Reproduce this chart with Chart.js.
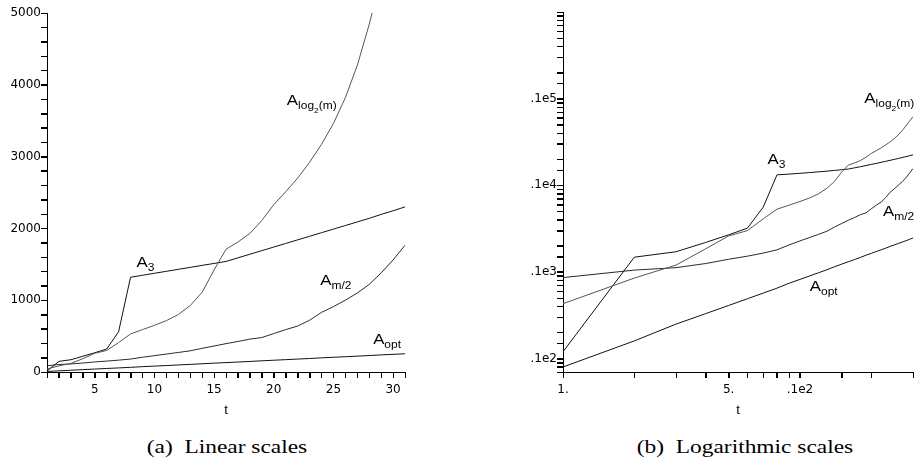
<!DOCTYPE html>
<html>
<head>
<meta charset="utf-8">
<script src="https://cdn.jsdelivr.net/npm/chart.js@4/dist/chart.umd.min.js"></script>
<style>
html,body{margin:0;padding:0;background:#fff;width:918px;height:465px;overflow:hidden;}
body{position:relative;}
#c1{position:absolute;left:0;top:0;}
#c2{position:absolute;left:460px;top:0;}
.cap{position:absolute;top:436px;font-family:"Liberation Serif","Times New Roman",serif;font-size:18px;line-height:22px;white-space:nowrap;color:#000;transform:translateX(-50%) scaleX(1.3);}
</style>
</head>
<body>
<canvas id="c1" width="410" height="430"></canvas>
<canvas id="c2" width="458" height="430"></canvas>
<div class="cap" style="left:227px">(a)&nbsp; Linear scales</div>
<div class="cap" style="left:745px">(b)&nbsp; Logarithmic scales</div>
<script>
// ---- data ----
const tValues = [1,2,3,4,5,6,7,8,9,10,11,12,13,14,15,16,17,18,19,20,21,22,23,24,25,26,27,28,29,30,31];
const aLog2m = [43,85,120,185,260,300,410,530,590,650,715,800,925,1110,1420,1710,1810,1930,2110,2330,2510,2700,2920,3170,3460,3820,4270,4840,5500,6200,7000];
const a3     = [12,148,171,219,268,320,560,1320,1347,1375,1402,1430,1457,1485,1512,1540,1590,1640,1690,1740,1790,1840,1890,1940,1990,2040,2090,2140,2195,2245,2300];
const aM2    = [86,105,112,125,140,152,165,180,205,228,250,272,295,330,362,395,425,458,480,535,590,640,720,830,910,1000,1100,1220,1380,1560,1765];
const aOpt   = [8,16,25,33,41,49,57,65,74,82,90,98,106,115,123,131,139,147,156,164,172,180,188,197,205,213,221,229,238,246,254];
const seriesNames = ['A_log2(m)','A_3','A_m/2','A_opt'];
const linXLabels = [5,10,15,20,25,30];
const linYLabels = [0,1000,2000,3000,4000,5000];
const logXLabels = {1:'1.',5:'5.',10:'.1e2'};
const logYLabels = {10:'.1e2',100:'.1e3',1000:'.1e4',10000:'.1e5'};

// label anchors (data coordinates) for the curve names
const linLabelPos = {log2:[21.1,3720], a3:[8.5,1458], m2:[23.9,1208], opt:[28.33,389]};
const logLabelPos = {log2:[18.7,8830], a3:[7.29,1742], m2:[22.4,440], opt:[11.0,61]};

const TICK_LEN = 6;
const tickFont = {family:'"DejaVu Sans", sans-serif', size:12};
const lblFamily = '"Liberation Sans", Arial, sans-serif';

function pts(vals){ return tValues.map((t,i)=>({x:t,y:vals[i]})); }
function ds(vals,color){
  return {data:pts(vals),borderColor:color,borderWidth:1,pointRadius:0,tension:0,fill:false};
}
const datasets = () => [ds(aLog2m,'#555'), ds(a3,'#111'), ds(aM2,'#2a2a2a'), ds(aOpt,'#111')];

function drawName(ctx,x,y,sub,subsub,rest){
  ctx.save();
  ctx.translate(x,y);
  ctx.scale(1.2,1);
  ctx.fillStyle='#000';
  ctx.textBaseline='alphabetic';
  ctx.textAlign='left';
  ctx.font='14px '+lblFamily;
  ctx.fillText('A',0,0);
  let cx = ctx.measureText('A').width;
  ctx.font='10px '+lblFamily;
  ctx.fillText(sub,cx,4);
  cx += ctx.measureText(sub).width;
  if (subsub){
    ctx.font='7px '+lblFamily;
    ctx.fillText(subsub,cx,8);
    cx += ctx.measureText(subsub).width;
  }
  if (rest){
    ctx.font='10px '+lblFamily;
    ctx.fillText(rest,cx,4);
  }
  ctx.restore();
}
function namesPlugin(pos){
  return {
    id:'names',
    afterDatasetsDraw(chart){
      const ctx=chart.ctx, xs=chart.scales.x, ys=chart.scales.y;
      const P=(p)=>[xs.getPixelForValue(p[0]), ys.getPixelForValue(p[1])];
      let q;
      q=P(pos.log2); drawName(ctx,q[0],q[1],'log','2','(m)');
      q=P(pos.a3);   drawName(ctx,q[0],q[1],'3');
      q=P(pos.m2);   drawName(ctx,q[0],q[1],'m/2');
      q=P(pos.opt);  drawName(ctx,q[0],q[1],'opt');
    }
  };
}
// tick marks taken from each scale's own ticks
const tickMarks = {
  id:'tickMarks',
  afterDraw(chart){
    const ctx=chart.ctx;
    ctx.save();
    ctx.strokeStyle='#000';
    ctx.lineWidth=1;
    ctx.beginPath();
    const xs=chart.scales.x, ys=chart.scales.y;
    xs.ticks.forEach((t,i)=>{
      const px=Math.round(xs.getPixelForTick(i))+0.5;
      const y0=Math.round(xs.top);
      ctx.moveTo(px,y0); ctx.lineTo(px,y0+TICK_LEN);
    });
    ys.ticks.forEach((t,i)=>{
      const py=Math.round(ys.getPixelForTick(i))+0.5;
      const x0=Math.round(ys.right);
      ctx.moveTo(x0,py); ctx.lineTo(x0-TICK_LEN,py);
    });
    ctx.stroke();
    ctx.restore();
  }
};

function gridOpts(){ return {display:true, drawOnChartArea:false, drawTicks:true, tickLength:TICK_LEN, color:'#000', tickColor:'#000', lineWidth:1, tickWidth:1}; }
function borderOpts(){ return {display:true, color:'#000', width:1}; }
function titleOpts(){ return {display:true, text:'t', color:'#000', font:{family:'"Liberation Sans", Arial, sans-serif', size:13}, padding:{top:0,bottom:12}}; }

new Chart(document.getElementById('c1'), {
  type:'line',
  data:{datasets:datasets()},
  options:{
    responsive:false, animation:false, devicePixelRatio:1,
    layout:{padding:{top:13,left:0,right:3,bottom:0}},
    plugins:{legend:{display:false}, tooltip:{enabled:false}},
    scales:{
      x:{type:'linear', min:1, max:31,
         ticks:{stepSize:1, maxTicksLimit:100, autoSkip:false, maxRotation:0, color:'#000', font:tickFont, padding:5,
                callback:(v)=> linXLabels.includes(v) ? String(v) : ''},
         grid:gridOpts(), border:borderOpts(), title:titleOpts(),
         afterFit:(s)=>{ s.height = 58; }},
      y:{type:'linear', min:0, max:5000,
         ticks:{stepSize:200, maxTicksLimit:100, autoSkip:false, color:'#000', font:tickFont, padding:0,
                callback:(v)=> linYLabels.includes(v) ? String(v) : ''},
         grid:gridOpts(), border:borderOpts(),
         afterFit:(s)=>{ s.width = 47; }}
    }
  },
  plugins:[namesPlugin(linLabelPos), tickMarks]
});

new Chart(document.getElementById('c2'), {
  type:'line',
  data:{datasets:datasets()},
  options:{
    responsive:false, animation:false, devicePixelRatio:1,
    layout:{padding:{top:12,left:0,right:0,bottom:0}},
    plugins:{legend:{display:false}, tooltip:{enabled:false}},
    scales:{
      x:{type:'logarithmic', min:1, max:30,
         ticks:{autoSkip:false, maxRotation:0, color:'#000', font:tickFont, padding:5,
                callback:(v)=>{ const k=Math.round(v); return (Math.abs(v-k)<1e-9 && logXLabels[k]) ? logXLabels[k] : ''; }},
         grid:gridOpts(), border:borderOpts(), title:titleOpts(),
         afterFit:(s)=>{ s.height = 58; }},
      y:{type:'logarithmic', min:7, max:100000,
         ticks:{autoSkip:false, color:'#000', font:tickFont, padding:0,
                callback:(v)=>{ const k=Math.round(v); return (Math.abs(v-k)<1e-6 && logYLabels[k]) ? logYLabels[k] : ''; }},
         grid:gridOpts(), border:borderOpts(),
         afterFit:(s)=>{ s.width = 103; }}
    }
  },
  plugins:[namesPlugin(logLabelPos), tickMarks]
});
</script>
</body>
</html>
